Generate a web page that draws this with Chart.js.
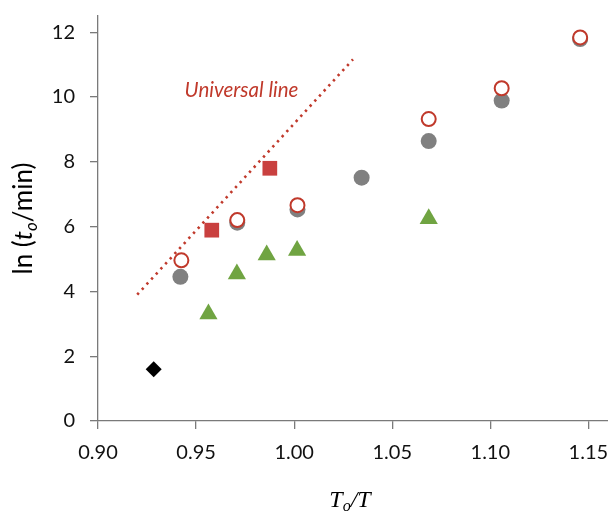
<!DOCTYPE html>
<html>
<head>
<meta charset="utf-8">
<script src="https://cdn.jsdelivr.net/npm/chart.js@4"></script>
<style>
  body { margin: 0; background: #fff; }
</style>
</head>
<body>
<canvas id="chart" width="608" height="511"></canvas>
<script>
// data
const grayX = [0.942, 0.971, 1.0017, 1.0344, 1.0686, 1.1058, 1.1458];
const grayY = [4.45, 6.12, 6.53, 7.51, 8.64, 9.89, 11.79];
const openX = [0.9425, 0.971, 1.0017, 1.0686, 1.1058, 1.1458];
const openY = [4.96, 6.20, 6.66, 9.32, 10.27, 11.84];
const squareX = [0.958, 0.9876];
const squareY = [5.89, 7.80];
const triX = [0.9563, 0.9708, 0.986, 1.0015, 1.0686];
const triY = [3.30, 4.54, 5.12, 5.26, 6.24];
const diamondX = [0.9284];
const diamondY = [1.60];
const lineX = [0.92, 1.03];
const lineY = [3.90, 11.16];
const xTicks = [0.90, 0.95, 1.00, 1.05, 1.10, 1.15];
const yTicks = [0, 2, 4, 6, 8, 10, 12];

const pts = (xs, ys) => xs.map((x, i) => ({ x: x, y: ys[i] }));

const axisColor = '#7a7a7a';
const red = '#C0392B';

// draws the axis titles (with subscripts) and the "Universal line" label
const labelsPlugin = {
    id: 'labels',
    afterDraw(chart) {
        const ctx = chart.ctx;
        ctx.save();
        ctx.fillStyle = '#000';
        ctx.textBaseline = 'alphabetic';

        // y title: ln (t_o/min)
        const yParts = [
            { t: 'ln (', f: '26px Lato', dy: 0 },
            { t: 't', f: 'italic 26px Lato', dy: 0 },
            { t: 'o', f: 'italic 17px Lato', dy: 5 },
            { t: '/min)', f: '26px Lato', dy: 0 }
        ];
        let w = 0;
        yParts.forEach(p => { ctx.font = p.f; w += ctx.measureText(p.t).width; });
        ctx.translate(32, 218.5);
        ctx.rotate(-Math.PI / 2);
        let x = -w / 2;
        yParts.forEach(p => {
            ctx.font = p.f;
            ctx.fillText(p.t, x, p.dy);
            x += ctx.measureText(p.t).width;
        });
        ctx.restore();

        // x title: T_o/T
        ctx.save();
        ctx.fillStyle = '#000';
        const xParts = [
            { t: 'T', f: 'italic 24px "Liberation Serif"', dy: 0 },
            { t: 'o', f: 'italic 16px "Liberation Serif"', dy: 4 },
            { t: '/T', f: 'italic 24px "Liberation Serif"', dy: 0 }
        ];
        w = 0;
        xParts.forEach(p => { ctx.font = p.f; w += ctx.measureText(p.t).width; });
        x = 350 - w / 2;
        xParts.forEach(p => {
            ctx.font = p.f;
            ctx.fillText(p.t, x, 507 + p.dy);
            x += ctx.measureText(p.t).width;
        });

        // universal line label
        ctx.font = 'italic 20.5px Lato';
        ctx.fillStyle = red;
        ctx.textAlign = 'center';
        ctx.textBaseline = 'middle';
        ctx.fillText('Universal line', 241.5, 90);
        ctx.restore();
    }
};

const config = {
    type: 'scatter',
    data: {
        datasets: [
            {
                label: 'open',
                data: pts(openX, openY),
                pointStyle: 'circle',
                pointRadius: 7,
                pointBorderWidth: 2,
                pointBackgroundColor: '#fff',
                pointBorderColor: red
            },
            {
                label: 'gray',
                data: pts(grayX, grayY),
                pointStyle: 'circle',
                pointRadius: 8,
                pointBorderWidth: 0,
                pointBackgroundColor: '#808080'
            },
            {
                label: 'square',
                data: pts(squareX, squareY),
                pointStyle: 'rect',
                pointRadius: 10.4,
                pointBorderWidth: 0,
                pointBackgroundColor: '#C9403F'
            },
            {
                label: 'triangle',
                data: pts(triX, triY),
                pointStyle: 'triangle',
                pointRadius: 10.5,
                pointBorderWidth: 0,
                pointBackgroundColor: '#70A442'
            },
            {
                label: 'diamond',
                data: pts(diamondX, diamondY),
                pointStyle: 'rectRot',
                pointRadius: 8,
                pointBorderWidth: 0,
                pointBackgroundColor: '#000'
            },
            {
                label: 'universal',
                data: pts(lineX, lineY),
                showLine: true,
                pointRadius: 0,
                borderColor: red,
                borderWidth: 2.6,
                borderDash: [2.4, 4.5]
            }
        ]
    },
    plugins: [labelsPlugin],
    options: {
        responsive: false,
        devicePixelRatio: 1,
        animation: false,
        layout: { autoPadding: false, padding: { top: 16, right: 0, left: 0, bottom: 0 } },
        plugins: {
            legend: { display: false },
            tooltip: { enabled: false }
        },
        scales: {
            x: {
                type: 'linear',
                min: 0.90,
                max: 1.16,
                afterBuildTicks: s => { s.ticks = xTicks.map(v => ({ value: v })); },
                afterFit: s => {
                    s.height = 90;
                    s.paddingLeft = 0;
                    s.paddingRight = 0;
                },
                grid: { drawOnChartArea: false, tickLength: 8, color: axisColor, lineWidth: 1.3 },
                border: { color: axisColor, width: 1.3 },
                ticks: {
                    padding: 12,
                    color: '#111',
                    font: { family: 'Lato', size: 20 },
                    callback: v => v.toFixed(2)
                }
            },
            y: {
                min: 0,
                max: 12.5,
                afterBuildTicks: s => { s.ticks = yTicks.map(v => ({ value: v })); },
                afterFit: s => {
                    s.width = 98;
                    s.paddingTop = 0;
                    s.paddingBottom = 0;
                },
                grid: { drawOnChartArea: false, tickLength: 8, color: axisColor, lineWidth: 1.3 },
                border: { color: axisColor, width: 1.3 },
                ticks: {
                    padding: 15,
                    color: '#111',
                    font: { family: 'Lato', size: 20 },
                    callback: v => String(v)
                }
            }
        }
    }
};

const chart = new Chart(document.getElementById('chart'), config);
</script>
</body>
</html>
